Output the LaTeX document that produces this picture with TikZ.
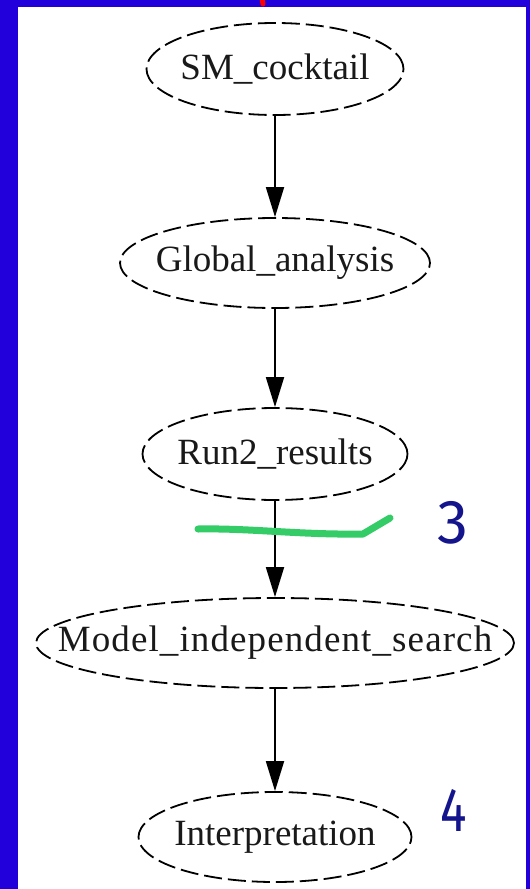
\documentclass[tikz,border=0pt]{standalone}
\usepackage{fontspec}
\setmainfont{Liberation Serif}
\newfontfamily\handfont{Fira Sans}
\usetikzlibrary{arrows.meta,shapes.geometric}
\definecolor{bgblue}{RGB}{34,0,220}
\definecolor{penblue}{RGB}{20,20,140}
\definecolor{pengreen}{RGB}{51,204,102}
\newcommand{\stagetext}[1]{\makebox[0pt]{#1}}
\tikzset{
  stage/.style={ellipse, draw=black, line width=1.8pt, dash pattern=on 18pt off 6pt,
    inner sep=0pt, font=\fontsize{37}{40}\selectfont, text=black!90},
  flow/.style={line width=1.8pt, -{Triangle[length=30pt,width=18pt]}},
  hand/.style={text=penblue, font=\handfont\fontsize{62}{66}\selectfont, inner sep=0pt}
}
\begin{document}
\begin{tikzpicture}[x=1pt,y=-1pt]
\useasboundingbox (0,0) rectangle (530,889);
\fill[bgblue] (0,0) rectangle (530,889);
\fill[white] (18,7) rectangle (526,889);
\draw[red, line width=5pt, line cap=round] (262,-2) -- (263,4);
\node[stage, minimum width=257pt, minimum height=92pt] (sm) at (275,69) {\stagetext{SM\_cocktail}};
\node[stage, minimum width=310pt, minimum height=90pt] (ga) at (275,263) {\stagetext{Global\_analysis}};
\node[stage, minimum width=265pt, minimum height=92pt] (rr) at (275,454) {\stagetext{Run2\_results}};
\node[stage, minimum width=478pt, minimum height=90pt] (mi) at (275,643) {\stagetext{\addfontfeatures{LetterSpace=3}Model\_independent\_search}};
\node[stage, minimum width=273pt, minimum height=90pt] (ip) at (275,837) {\stagetext{Interpretation}};
\draw[flow] (sm.south) -- (ga.north);
\draw[flow] (ga.south) -- (rr.north);
\draw[flow] (rr.south) -- (mi.north);
\draw[flow] (mi.south) -- (ip.north);
\draw[pengreen, line width=7pt, line cap=round, line join=round]
  (198,529) .. controls (250,528) and (300,535) .. (363,534) -- (390,518);
\node[hand] (n3) at (453,523) {3};
\node[hand, xscale=0.8] (n4) at (454,810) {4};
\end{tikzpicture}
\end{document}
